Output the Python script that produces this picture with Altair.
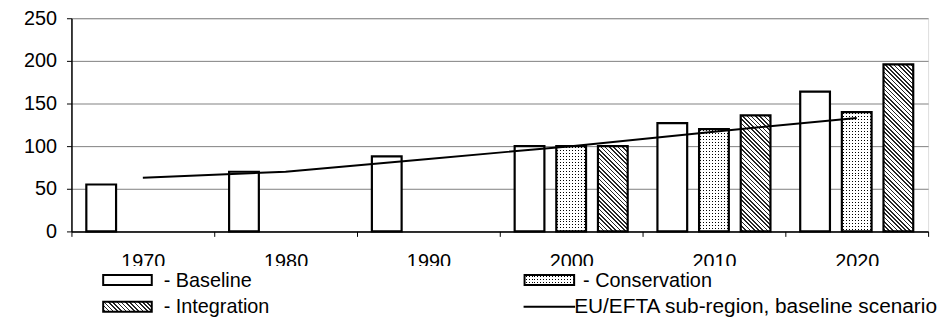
import math
import altair as alt
import pandas as pd

# ---------------- data ----------------
years = ["1970", "1980", "1990", "2000", "2010", "2020"]
scenario_names = ["Baseline", "Conservation", "Integration"]
baseline = [55, 70, 88, 100, 127, 164]
conservation = [None, None, None, 100, 120, 140]
integration = [None, None, None, 100, 136, 196]
eu_efta = [63, 70, 85, 100, 117, 133]
y_ticks = [0, 50, 100, 150, 200, 250]
legend_labels = ["- Baseline", "- Conservation", "- Integration",
                 "EU/EFTA sub-region, baseline scenario"]

# ---------------- layout / style ----------------
W_PLOT, H_PLOT, Y_MAX = 864, 215, 250
FONT = "Liberation Sans"
FS = 20

rows = []
for name, series in zip(scenario_names, [baseline, conservation, integration]):
    for yr, v in zip(years, series):
        if v is not None:
            rows.append({"year": yr, "scenario": name, "value": v})
bars_df = pd.DataFrame(rows)
line_df = pd.DataFrame({"year": years, "value": eu_efta})


def stripe_gradient(W, H, d, period, width, on, off):
    """Linear gradient (bounding-box units) that draws parallel stripes of a
    fixed pixel period/width on a W x H pixel rectangle."""
    dx, dy = d
    n = math.hypot(dx, dy)
    dx, dy = dx / n, dy / n
    u1 = 0.0 if dx >= 0 else 1.0
    v1 = 0.0 if dy >= 0 else 1.0
    smax = abs(dx) * W + abs(dy) * H
    gx, gy = dx * W, dy * H
    lam = smax / (gx * gx + gy * gy)
    x2 = u1 + lam * gx
    y2 = v1 + lam * gy
    stops = [{"offset": 0.0, "color": off}]
    k = 0
    while True:
        a = k * period + (period - width) / 2.0
        if a >= smax:
            break
        b = a + width
        at = round(max(a, 0) / smax, 5)
        bt = round(min(b, smax) / smax, 5)
        stops += [{"offset": at, "color": off}, {"offset": at, "color": on},
                  {"offset": bt, "color": on}, {"offset": bt, "color": off}]
        k += 1
    stops.append({"offset": 1.0, "color": off})
    return {"gradient": "linear", "x1": u1, "y1": v1,
            "x2": round(x2, 5), "y2": round(y2, 5), "stops": stops}


HATCH_P = 4.3 / math.sqrt(2)


def hatch(W, H):
    return [stripe_gradient(W, H, (1, -1), HATCH_P, 1.15, "#262626", "#ffffff")]


def dots(W, H):
    return [stripe_gradient(W, H, (0, 1), 3.0, 1.0, "#000000", "#ffffff"),
            stripe_gradient(W, H, (1, 0), 3.0, 1.0, "rgba(255,255,255,0)", "#ffffff")]


PATTERN = {"Conservation": dots, "Integration": hatch}

# ---------------- scales / axes ----------------
xscale = alt.Scale(paddingInner=0, paddingOuter=0)
offscale = alt.Scale(domain=scenario_names, paddingInner=12 / 42, paddingOuter=15 / 42)
yscale = alt.Scale(domain=[0, Y_MAX], nice=False, zero=True)

xaxis = alt.Axis(title=None, labelAngle=0, tickBand="extent", tickSize=5,
                 labelPadding=15, labelFontSize=FS, labelFont=FONT,
                 labelColor="black", tickColor="black", domainColor="black",
                 domainWidth=1.5, grid=False, zindex=0)
yaxis = alt.Axis(title=None, values=y_ticks, tickSize=5, labelPadding=10,
                 labelFontSize=FS, labelFont=FONT, labelColor="black",
                 tickColor="black", domainColor="black", domainWidth=1.5,
                 grid=True, gridColor="#808080", gridWidth=1, zindex=0)

base = alt.Chart(bars_df).encode(
    x=alt.X("year:N", scale=xscale, axis=xaxis, sort=years),
    xOffset=alt.XOffset("scenario:N", scale=offscale),
    y=alt.Y("value:Q", scale=yscale, axis=yaxis),
)

layers = [base.mark_bar(fill="white", strokeWidth=0)]

bar_w = W_PLOT / len(years) / (3 - 12 / 42 + 2 * 15 / 42) * (1 - 12 / 42)
for r in rows:
    if r["scenario"] == "Baseline":
        continue
    H = r["value"] * H_PLOT / Y_MAX
    for g in PATTERN[r["scenario"]](bar_w, H):
        layers.append(
            base.transform_filter(
                (alt.datum.year == r["year"]) & (alt.datum.scenario == r["scenario"])
            ).mark_bar(fill=g, strokeWidth=0)
        )

layers.append(base.mark_bar(fillOpacity=0, stroke="black", strokeWidth=2.2))

layers.append(
    alt.Chart(line_df).mark_line(color="black", strokeWidth=2).encode(
        x=alt.X("year:N", sort=years), y="value:Q"
    )
)

# ---------------- legend (drawn below the plot) ----------------
one = alt.Data(values=[{"k": 0}])
layers.append(
    alt.Chart(one).mark_rect(fill="white").encode(
        x=alt.value(-72), x2=alt.value(880), y=alt.value(250), y2=alt.value(330)
    )
)


def swatch(x0, x1, y0, y1, fills):
    out = []
    for f in fills:
        out.append(alt.Chart(one).mark_rect(fill=f, strokeWidth=0).encode(
            x=alt.value(x0), x2=alt.value(x1), y=alt.value(y0), y2=alt.value(y1)))
    out.append(alt.Chart(one).mark_rect(fillOpacity=0, stroke="black", strokeWidth=2).encode(
        x=alt.value(x0), x2=alt.value(x1), y=alt.value(y0), y2=alt.value(y1)))
    return out


SW_W, SW_H = 49, 10
layers += swatch(32, 32 + SW_W, 259, 259 + SW_H, ["white"])
layers += swatch(32, 32 + SW_W, 286, 286 + SW_H, hatch(SW_W, SW_H))
layers += swatch(457, 457 + SW_W + 1, 259, 259 + SW_H, dots(SW_W + 1, SW_H))
layers.append(
    alt.Chart(one).mark_rule(color="black", strokeWidth=2).encode(
        x=alt.value(456), x2=alt.value(508), y=alt.value(291)
    )
)


def label(text, x, y, size=FS):
    return alt.Chart(alt.Data(values=[{"label": text}])).mark_text(
        align="left", baseline="alphabetic", font=FONT, fontSize=size, color="black"
    ).encode(text="label:N", x=alt.value(x), y=alt.value(y))


layers += [
    label(legend_labels[0], 93, 271),
    label(legend_labels[1], 516, 271),
    label(legend_labels[2], 93, 297),
    label(legend_labels[3], 507, 297, 21),
]

chart = (
    alt.layer(*layers)
    .properties(
        width=W_PLOT,
        height=H_PLOT,
        autosize=alt.AutoSizeParams(type="none"),
        padding={"left": 64, "top": 9, "right": 13, "bottom": 86},
    )
    .configure_view(stroke="#808080", strokeWidth=1.5)
    .configure(font=FONT)
)

chart.save("out.html", embed_options={"renderer": "svg", "actions": False})
